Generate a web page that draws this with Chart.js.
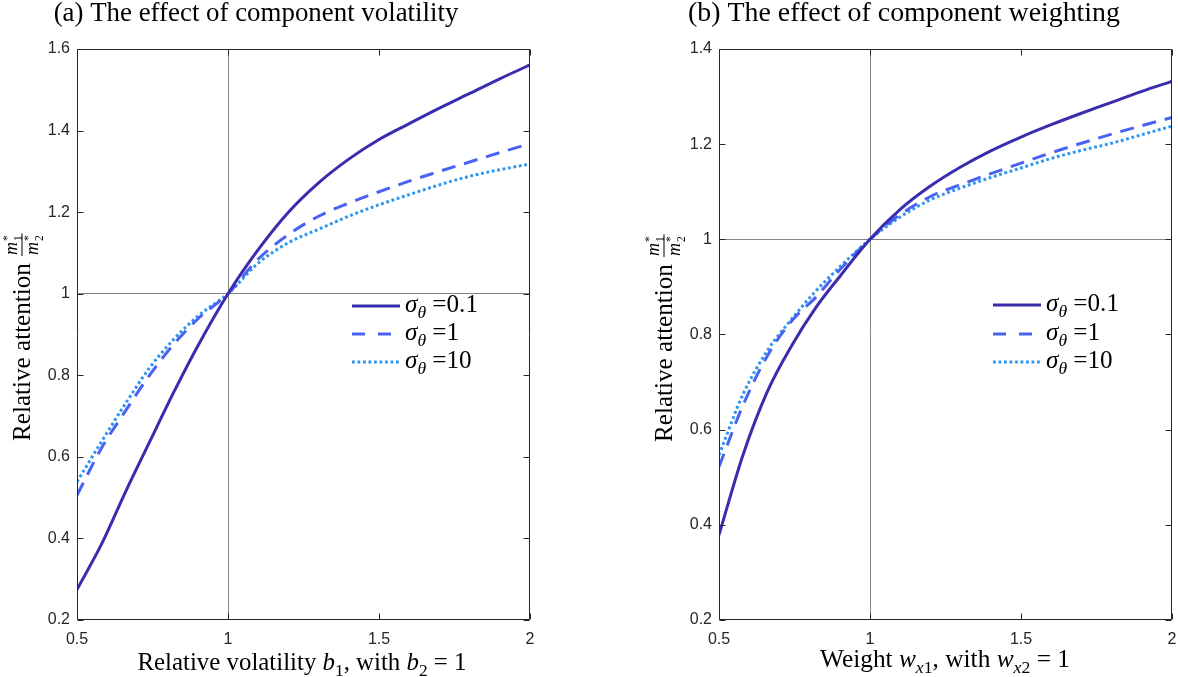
<!DOCTYPE html>
<html><head><meta charset="utf-8">
<script src="https://cdn.jsdelivr.net/npm/chart.js@4/dist/chart.umd.min.js"></script>
<style>
html,body{margin:0;padding:0;background:#fff;}
#wrap{position:relative;width:1178px;height:677px;overflow:hidden;}
.pane{position:absolute;top:0;width:589px;height:677px;}
</style></head><body>
<div id="wrap">
<div class="pane" style="left:0"><canvas id="c1" width="589" height="677"></canvas></div>
<div class="pane" style="left:589px"><canvas id="c2" width="589" height="677"></canvas></div>
</div>
<script>
// ---------------- data ----------------
const xGrid = [0.5,0.58,0.66,0.74,0.82,0.9,1.0,1.1,1.2,1.3,1.4,1.5,1.6,1.7,1.8,1.9,2.0];
const sigmaLabels = ['0.1','1','10'];

// panel (a): relative volatility
const volSigma01 = [0.275,0.384,0.513,0.636,0.758,0.872,1.0,1.108,1.200,1.272,1.330,1.378,1.417,1.455,1.491,1.527,1.561];
const volSigma1  = [0.506,0.620,0.712,0.800,0.876,0.938,1.0,1.085,1.145,1.190,1.222,1.250,1.276,1.300,1.323,1.346,1.368];
const volSigma10 = [0.539,0.636,0.730,0.818,0.888,0.945,1.0,1.075,1.125,1.158,1.190,1.218,1.243,1.267,1.288,1.304,1.318];

// panel (b): weighting
const wtSigma01 = [0.379,0.548,0.680,0.776,0.856,0.922,1.0,1.063,1.112,1.152,1.186,1.215,1.241,1.265,1.288,1.311,1.332];
const wtSigma1  = [0.522,0.652,0.755,0.828,0.878,0.936,1.0,1.052,1.090,1.115,1.138,1.160,1.182,1.202,1.221,1.239,1.256];
const wtSigma10 = [0.547,0.675,0.766,0.832,0.891,0.942,1.0,1.047,1.083,1.108,1.130,1.150,1.170,1.187,1.202,1.220,1.238];

const xTickVals  = [0.5,1,1.5,2];
const yTickValsA = [0.2,0.4,0.6,0.8,1,1.2,1.4,1.6];
const yTickValsB = [0.2,0.4,0.6,0.8,1,1.2,1.4];

// ---------------- styles ----------------
const STY = [
  {color:'#3a2cae', dash:[], legendDash:[]},
  {color:'#4a62f2', dash:[14,9], legendDash:[13,13]},
  {color:'#2b95ef', dash:[2.8,2.7], legendDash:[2.8,2.7]}
];
const SERIF = '"Liberation Serif","DejaVu Serif",serif';
const SANS = '"Liberation Sans",Arial,sans-serif';
const AXC = '#262626';

function fmt(v){ return String(Math.round(v*10)/10); }

function fontFor(st,size){
  const small = (st==='sub'||st==='isub'||st==='sup');
  const s = small ? size*0.7 : size;
  const it = (st==='i'||st==='isub') ? 'italic ' : '';
  return it + s.toFixed(2) + 'px ' + SERIF;
}
function measureRich(ctx,segs,size){
  let w=0; segs.forEach(([t,st])=>{ctx.font=fontFor(st,size); w+=ctx.measureText(t).width;}); return w;
}
function drawRich(ctx,segs,x,y,size,align){
  const w = measureRich(ctx,segs,size);
  let cx = align==='center' ? x-w/2 : x;
  ctx.textBaseline='alphabetic'; ctx.textAlign='left';
  segs.forEach(([t,st])=>{
    ctx.font=fontFor(st,size);
    const dy = (st==='sub'||st==='isub') ? size*0.25 : (st==='sup' ? -size*0.38 : 0);
    ctx.fillText(t,cx,y+dy); cx+=ctx.measureText(t).width;
  });
  return w;
}
function fitSize(ctx,segs,targetW){
  return 20*targetW/measureRich(ctx,segs,20);
}
// m with stacked sub/superscript
function drawMStar(ctx,sub,x,y,fs){
  ctx.font='italic '+fs+'px '+SERIF;
  ctx.fillText('m',x,y);
  const mw=ctx.measureText('m').width;
  ctx.font=(fs*0.64).toFixed(1)+'px '+SERIF;
  const sw=ctx.measureText(sub).width;
  ctx.fillText(sub,x+mw+1,y+fs*0.28);
  ctx.fillText('*',x+mw+1,y-fs*0.36);
  return mw+sw+2;
}

const decor = {
  id:'decor',
  afterDatasetsDraw(chart,args,o){
    const {ctx, chartArea:a, scales:{x,y}} = chart;
    ctx.save();
    // box
    ctx.strokeStyle=AXC; ctx.lineWidth=1; ctx.setLineDash([]);
    const L=Math.round(a.left)+0.5, R=Math.round(a.right)-0.5, T=Math.round(a.top)+0.5, B=Math.round(a.bottom)-0.5;
    ctx.beginPath(); ctx.rect(L,T,R-L,B-T); ctx.stroke();
    // inward ticks
    const tl=6;
    ctx.beginPath();
    x.ticks.forEach(t=>{const p=Math.round(x.getPixelForValue(t.value))+0.5; ctx.moveTo(p,B); ctx.lineTo(p,B-tl); ctx.moveTo(p,T); ctx.lineTo(p,T+tl);});
    y.ticks.forEach(t=>{const p=Math.round(y.getPixelForValue(t.value))+0.5; ctx.moveTo(L,p); ctx.lineTo(L+tl,p); ctx.moveTo(R,p); ctx.lineTo(R-tl,p);});
    ctx.stroke();

    ctx.fillStyle='#000';
    // title
    drawRich(ctx,o.title,o.titleX,21,fitSize(ctx,o.title,o.titleW),'center');
    // x label
    drawRich(ctx,o.xlabel,o.xlabelX,o.xlabelY,fitSize(ctx,o.xlabel,o.xlabelW),'center');
    // y label (rotated): text reads bottom-to-top, starting at screen y = o.ylabelStart
    ctx.save();
    ctx.translate(o.ylabelX, 0); ctx.rotate(-Math.PI/2);
    const ySegs=[['Relative attention','n']];
    const ysz=fitSize(ctx,ySegs,178);
    const tw=measureRich(ctx,ySegs,ysz);
    const start=-o.ylabelStart;
    drawRich(ctx,ySegs,start,0,ysz,'left');
    const fs=18;
    const fx=start+tw+7;
    const fw=drawMStar(ctx,'1',fx+1,-13,fs);
    drawMStar(ctx,'2',fx+1,8,fs);
    ctx.fillRect(fx,-8.5,fw+2,1);
    ctx.restore();

    // legend
    const lsz=fitSize(ctx,[['σ','i'],['θ','isub'],[' =0.1','n']],73);
    chart.data.datasets.forEach((ds,i)=>{
      const yy=o.legY[i];
      ctx.save();
      ctx.strokeStyle=STY[i].color; ctx.lineWidth=3; ctx.lineCap='butt';
      ctx.setLineDash(STY[i].legendDash);
      ctx.beginPath(); ctx.moveTo(o.legX,yy); ctx.lineTo(o.legX+48,yy); ctx.stroke();
      ctx.restore();
      ctx.fillStyle='#000';
      drawRich(ctx,[['σ','i'],['θ','isub'],[' =' + sigmaLabels[i],'n']],o.legX+53,yy+6,lsz,'left');
    });
    ctx.restore();
  }
};

function buildChart(id,series,yMin,yMax,yTicks,yWidth,padRight,dec){
  return new Chart(document.getElementById(id),{
    type:'line',
    data:{datasets:series.map((s,i)=>({
      label:'σθ =' + sigmaLabels[i],
      data:xGrid.map((xv,j)=>({x:xv,y:s[j]})),
      borderColor:STY[i].color, borderWidth:3, borderDash:STY[i].dash, borderCapStyle:'butt',
      pointRadius:0, cubicInterpolationMode:'monotone', fill:false
    }))},
    options:{
      responsive:false, animation:false, events:[],
      layout:{padding:{left:0,right:padRight,top:49,bottom:0}},
      plugins:{legend:{display:false},tooltip:{enabled:false},decor:dec},
      scales:{
        x:{type:'linear',min:0.5,max:2,
          afterBuildTicks:s=>{s.ticks=xTickVals.map(v=>({value:v}));},
          afterFit:s=>{s.height=57; s.paddingLeft=0; s.paddingRight=0;},
          ticks:{color:AXC,font:{family:SANS,size:16},padding:10,maxRotation:0,autoSkip:false,callback:v=>fmt(v)},
          grid:{drawTicks:false,lineWidth:1,color:c=>(c.tick&&Math.abs(c.tick.value-1)<1e-9)?'#858585':'rgba(0,0,0,0)'},
          border:{display:false}},
        y:{type:'linear',min:yMin,max:yMax,
          afterBuildTicks:s=>{s.ticks=yTicks.map(v=>({value:v}));},
          afterFit:s=>{s.width=yWidth; s.paddingTop=0; s.paddingBottom=0;},
          ticks:{color:AXC,font:{family:SANS,size:16},padding:7,autoSkip:false,callback:v=>fmt(v)},
          grid:{drawTicks:false,lineWidth:1,color:c=>(c.tick&&Math.abs(c.tick.value-1)<1e-9)?'#858585':'rgba(0,0,0,0)'},
          border:{display:false}}
      }
    },
    plugins:[decor]
  });
}

buildChart('c1',[volSigma01,volSigma1,volSigma10],0.2,1.6,yTickValsA,77,59,{
  title:[['(a) The effect of component volatility','n']], titleX:256, titleW:405,
  xlabel:[['Relative volatility ','n'],['b','i'],['1','sub'],[', with ','n'],['b','i'],['2','sub'],[' = 1','n']],
  xlabelX:302, xlabelY:670, xlabelW:329,
  ylabelX:30, ylabelStart:441,
  legX:352, legY:[306,334,362]
});
buildChart('c2',[wtSigma01,wtSigma1,wtSigma10],0.2,1.4,yTickValsB,130,6,{
  title:[['(b) The effect of component weighting','n']], titleX:904-589, titleW:432,
  xlabel:[['Weight ','n'],['w','i'],['x','isub'],['1','sub'],[', with ','n'],['w','i'],['x','isub'],['2','sub'],[' = 1','n']],
  xlabelX:945-589, xlabelY:667, xlabelW:250,
  ylabelX:672-589, ylabelStart:442,
  legX:993-589, legY:[305,334,362]
});
</script>
</body></html>
